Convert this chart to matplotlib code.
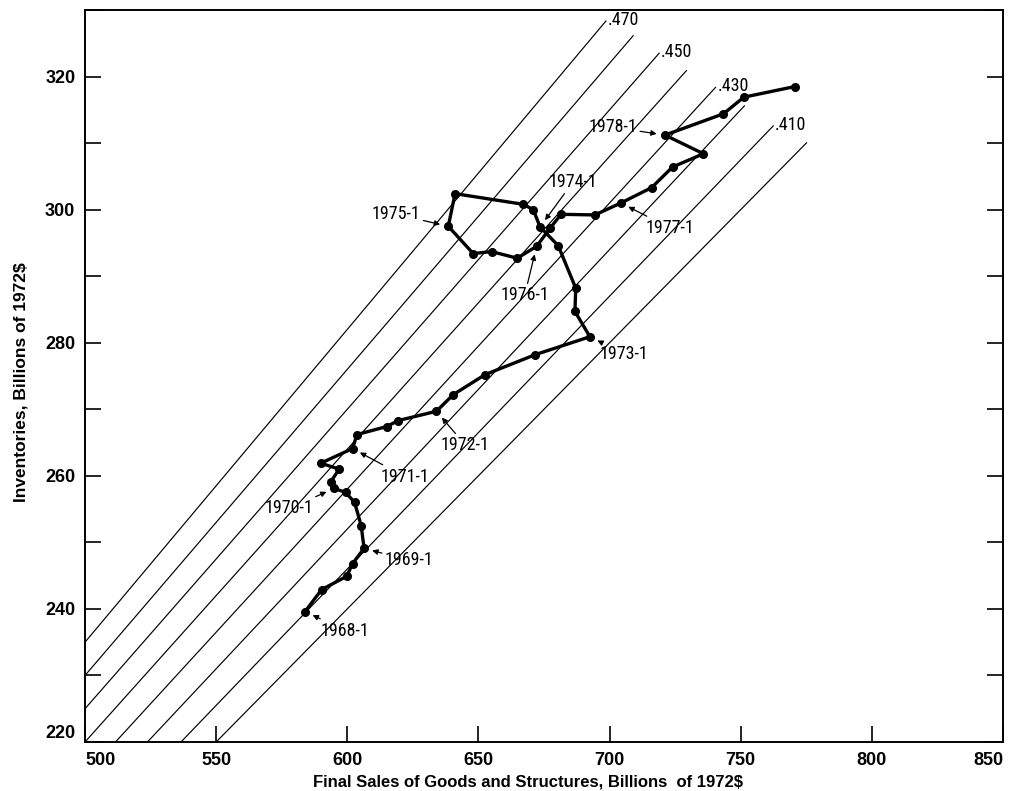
import matplotlib
matplotlib.use("Agg")
import matplotlib.pyplot as plt
from matplotlib import font_manager
from matplotlib.font_manager import FontProperties
from matplotlib.ticker import MultipleLocator, FixedLocator

# ---------------- data ----------------
# Quarterly path 1968-1 ... 1978-4 (billions of 1972 $)
final_sales = [583.9, 590.2, 599.8, 602.0, 606.4, 605.3, 602.8, 599.4,
               595.0, 593.7, 596.9, 589.9, 602.0, 603.7, 615.0, 619.4,
               634.0, 640.4, 652.5, 671.6, 692.5, 686.8, 687.1, 680.4,
               673.5, 670.9, 667.1, 641.1, 638.5, 648.0, 655.0, 664.8,
               672.2, 677.3, 681.5, 694.4, 704.3, 716.0, 724.0, 735.8,
               721.1, 743.4, 751.2, 770.7]
inventories = [239.6, 242.9, 244.9, 246.8, 249.1, 252.5, 256.0, 257.5,
               258.1, 259.1, 261.0, 261.9, 264.1, 266.2, 267.4, 268.3,
               269.7, 272.2, 275.2, 278.2, 280.9, 284.7, 288.2, 294.6,
               297.4, 300.0, 300.8, 302.4, 297.5, 293.4, 293.7, 292.7,
               294.5, 297.2, 299.3, 299.2, 301.0, 303.3, 306.4, 308.4,
               311.2, 314.4, 316.9, 318.5]

# first-quarter labels and their index in the path
year_labels = ['1968-1', '1969-1', '1970-1', '1971-1', '1972-1', '1973-1',
               '1974-1', '1975-1', '1976-1', '1977-1', '1978-1']
year_index = [0, 4, 8, 12, 16, 20, 24, 28, 32, 36, 40]

# inventory / sales ratio lines
ratios = [0.400, 0.410, 0.420, 0.430, 0.440, 0.450, 0.460, 0.470]
ratio_end_sales = [775.1, 762.4, 751.4, 740.4, 729.3, 718.9, 709.0, 698.6]
ratio_labels = ['', '.410', '', '.430', '', '.450', '', '.470']

x_ticks = [500, 550, 600, 650, 700, 750, 800, 850]
y_ticks = [220, 240, 260, 280, 300, 320]

# ---------------- fonts ----------------
names = {f.name for f in font_manager.fontManager.ttflist}
tick_font = 'Liberation Sans' if 'Liberation Sans' in names else 'DejaVu Sans'


def _is_normal(f):
    w = f.weight
    try:
        w = int(w)
    except (TypeError, ValueError):
        w = 400 if str(w) in ('normal', 'regular', 'book', 'medium') else 700
    return f.style == 'normal' and 350 <= w <= 500


def _is_condensed(f):
    st = f.stretch
    if isinstance(st, (int, float)):
        return st < 500
    return str(st) in ('condensed', 'semi-condensed', 'extra-condensed',
                       'ultra-condensed') or 'Narrow' in f.name or 'Condensed' in f.name


pref = ['Liberation Sans Narrow', 'Roboto Condensed', 'Noto Sans', 'DejaVu Sans',
        'Open Sans', 'Roboto']
cands = [f for f in font_manager.fontManager.ttflist if _is_normal(f) and _is_condensed(f)]
cands.sort(key=lambda f: (pref.index(f.name) if f.name in pref else 99, str(f.stretch)))
if cands:
    ann_fp = FontProperties(fname=cands[0].fname, size=13)
else:
    ann_fp = FontProperties(family='Liberation Serif', size=12.5)

# label text offsets (pixels) relative to the annotated point
label_offsets = [(40, -19), (45, -12), (-45, -20), (52, -28), (29, -34),
                 (34, -17), (33, 45), (-52, 12), (-12, -49), (49, -25),
                 (-52, 8)]

fig = plt.figure(figsize=(10.11, 7.91), dpi=100)
ax = fig.add_axes([85 / 1011, 49 / 791, 918 / 1011, 732 / 791])

# ratio lines
for r, xe, lab in zip(ratios, ratio_end_sales, ratio_labels):
    ax.plot([0, xe], [0, r * xe], color='black', lw=0.85, zorder=1)
    if lab:
        ax.annotate(lab, (xe, r * xe), xytext=(2, 1), textcoords='offset pixels',
                    ha='left', va='center', fontproperties=ann_fp)

# path
ax.plot(final_sales, inventories, color='black', lw=2.4, marker='o',
        markersize=5.5, zorder=3, solid_joinstyle='round')

# first-quarter annotations
for lab, idx, off in zip(year_labels, year_index, label_offsets):
    ax.annotate(lab, (final_sales[idx], inventories[idx]), xytext=off,
                textcoords='offset pixels', ha='center', va='center',
                fontproperties=ann_fp,
                arrowprops=dict(arrowstyle='-|>', color='black', lw=0.9,
                                mutation_scale=8, shrinkA=0, shrinkB=6))

ax.set_xlim(500, 850)
ax.set_ylim(220, 330)
ax.xaxis.set_major_locator(FixedLocator(x_ticks))
ax.yaxis.set_major_locator(FixedLocator(y_ticks))
ax.yaxis.set_minor_locator(MultipleLocator(10))

for s in ax.spines.values():
    s.set_linewidth(1.4)

ax.tick_params(axis='both', which='both', direction='in', length=11.5, width=1.2)
ax.tick_params(axis='y', which='both', right=True, labelright=False, pad=7)
ax.tick_params(axis='x', which='both', top=False, pad=7)

ax.set_xticklabels([str(v) for v in x_ticks], family=tick_font, fontsize=13, fontweight='bold')
ax.set_yticklabels([str(v) for v in y_ticks], family=tick_font, fontsize=13, fontweight='bold')
xl = ax.get_xticklabels()
xl[0].set_ha('left')
xl[-1].set_ha('right')
ax.get_yticklabels()[0].set_va('bottom')

ax.set_xlabel('Final Sales of Goods and Structures, Billions  of 1972$',
              family=tick_font, fontsize=12, fontweight='bold')
ax.set_ylabel('Inventories, Billions of 1972$', family=tick_font,
              fontsize=12.5, fontweight='bold')
ax.xaxis.set_label_coords(0.483, -0.044)
ax.yaxis.set_label_coords(-0.062, 0.492)

fig.savefig('out.png', dpi=100)
